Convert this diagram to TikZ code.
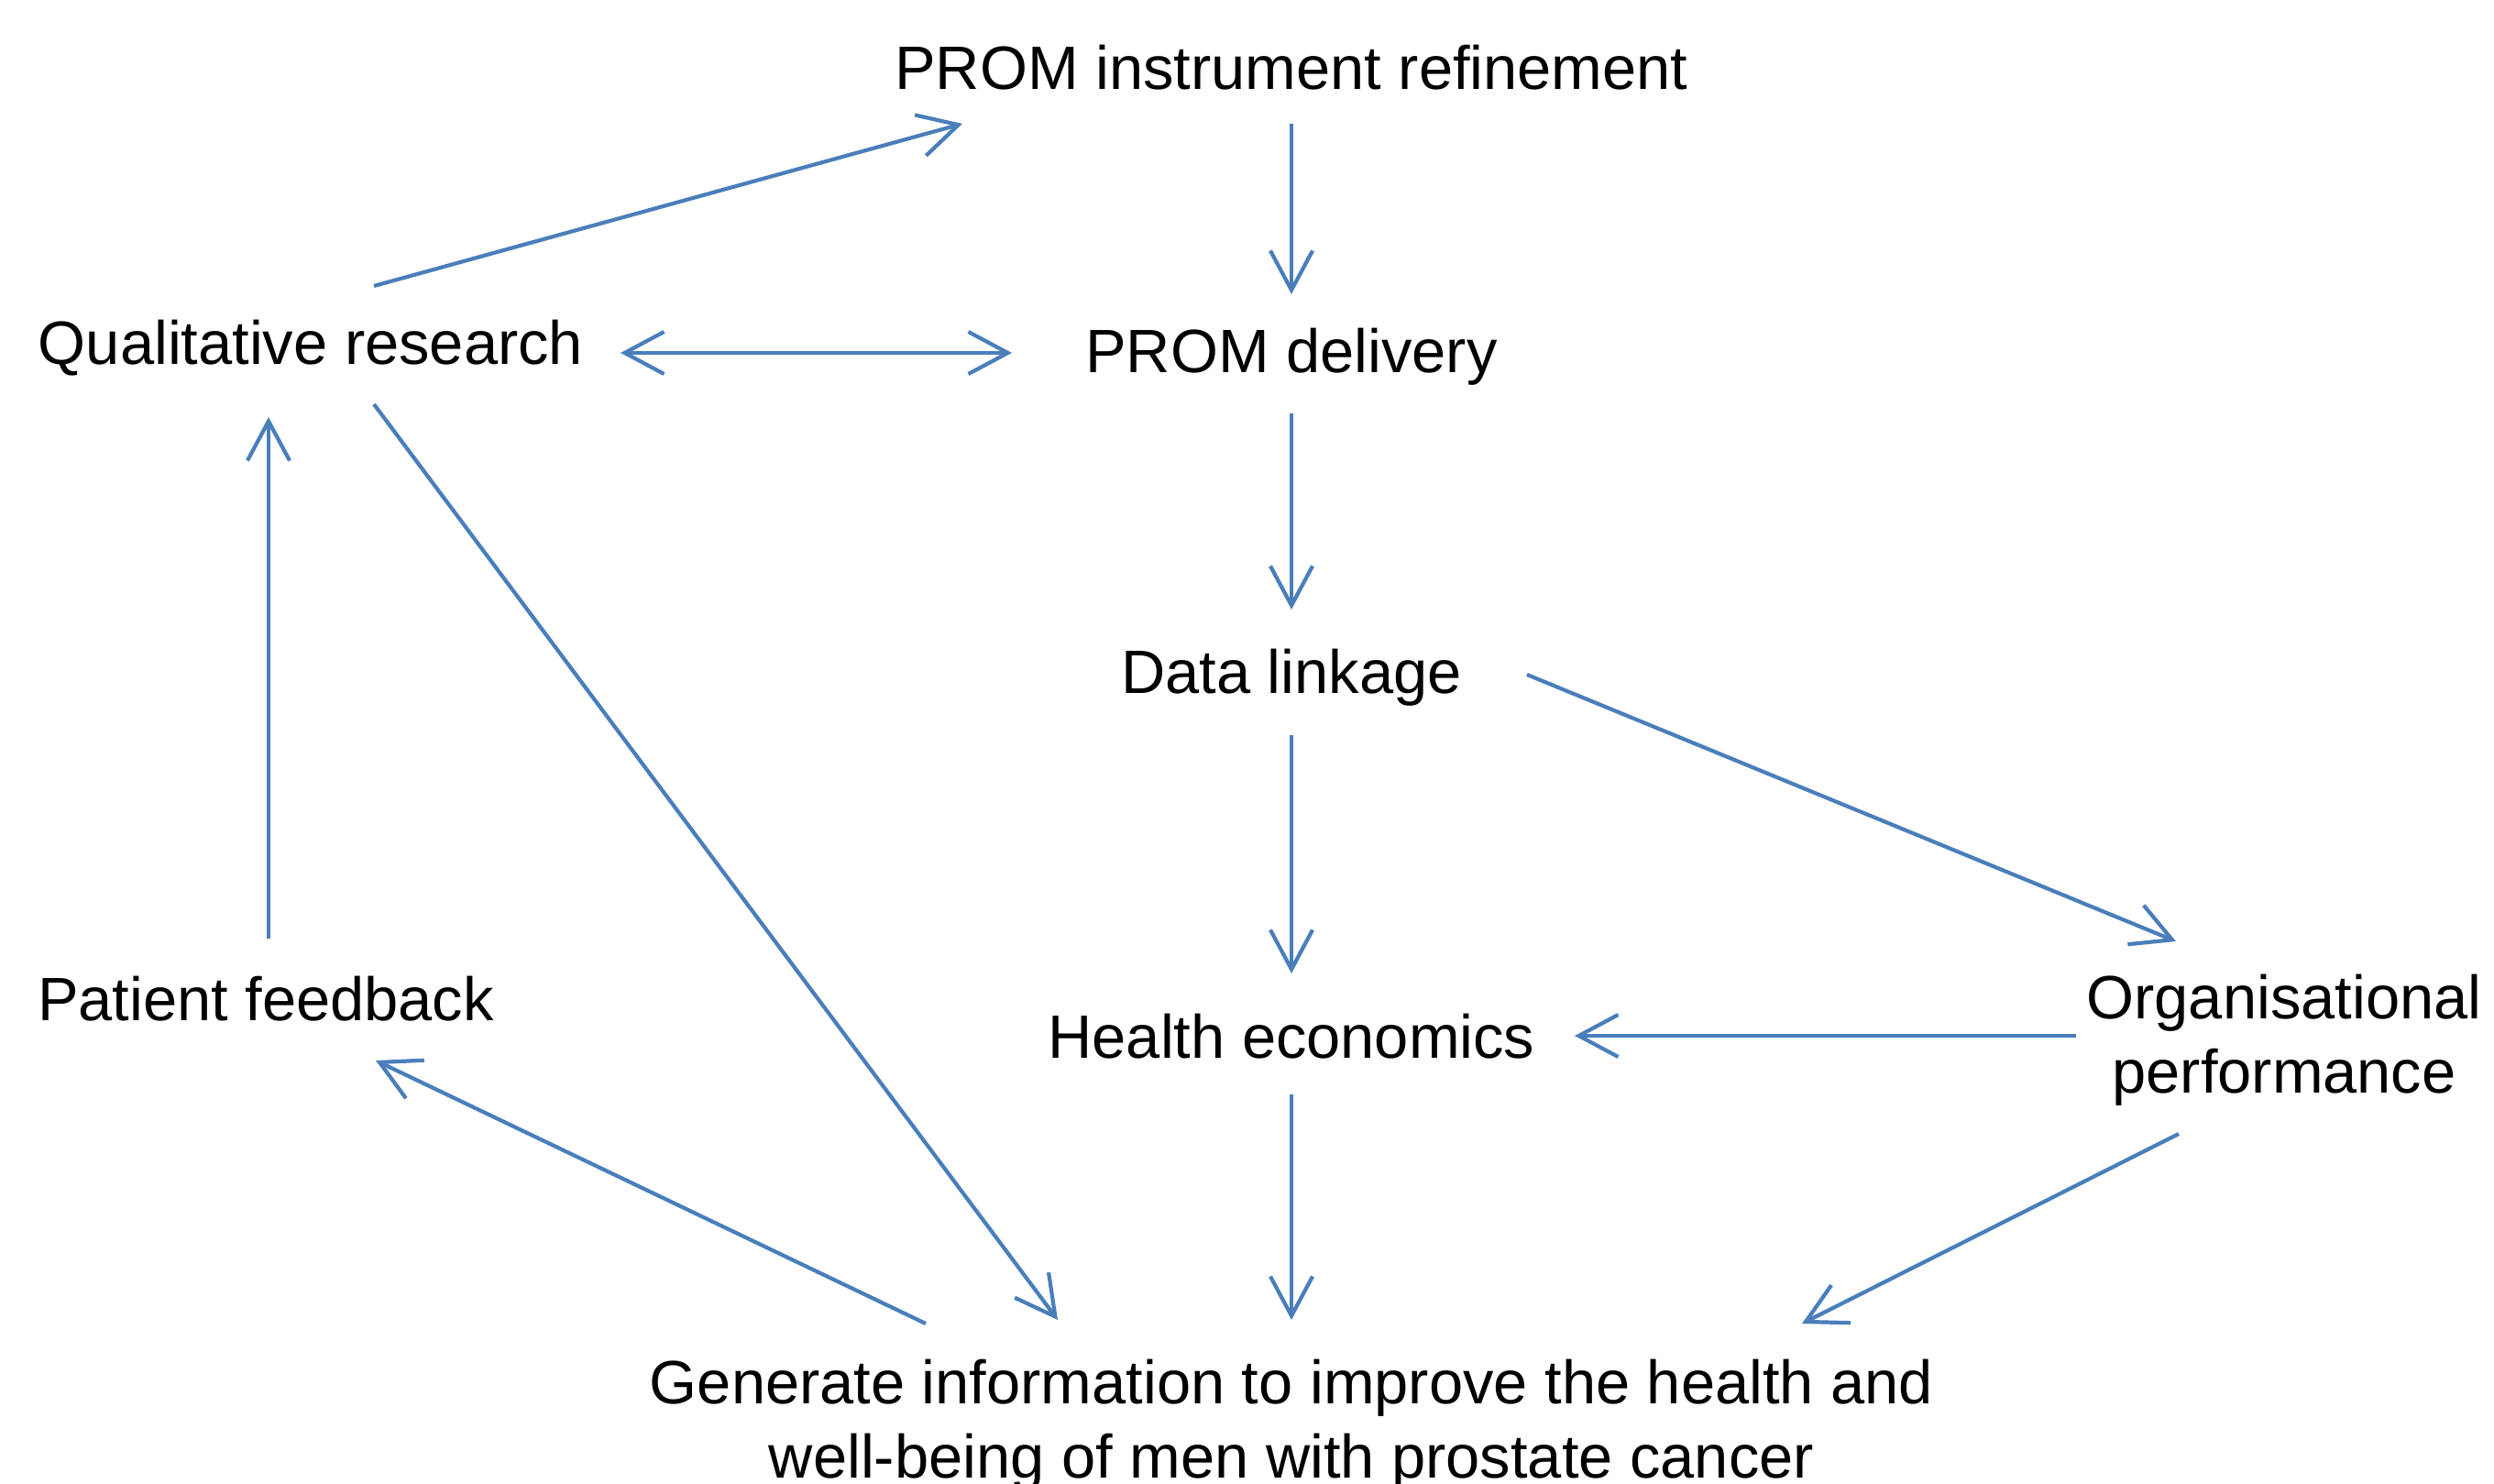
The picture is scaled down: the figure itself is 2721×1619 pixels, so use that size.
\documentclass[tikz,border=0pt]{standalone}
\usepackage{fontspec}
\setmainfont{Liberation Sans}
\usetikzlibrary{arrows.meta,calc}

\definecolor{lineblue}{RGB}{74,126,187}

\begin{document}
\begin{tikzpicture}[x=0.01cm,y=-0.01cm,
  box/.style={inner sep=0pt,align=center,font=\fontsize{19}{23}\selectfont},
  link/.style={draw=lineblue,line width=1.2pt,-{Straight Barb[length=4.3mm,width=4.6mm]}},
  both/.style={link,{Straight Barb[length=4.3mm,width=4.6mm]}-{Straight Barb[length=4.3mm,width=4.6mm]}}]
\useasboundingbox (0,0) rectangle (2721,1619);

\node[box] (refine) at (1409,74) {PROM instrument refinement};
\node[box] (qual) at (339,380) {Qualitative research};
\node[box] (deliver) at (1409,389) {PROM delivery};
\node[box] (linkage) at (1409,739) {Data linkage};
\node[box] (feedback) at (290,1090) {Patient feedback};
\node[box] (health) at (1409,1131) {Health economics};
\node[box] (org) at (2492,1135) {Organisational\\performance};
\node[box] (generate) at (1409,1555) {Generate information to improve the health and\\well-being of men with prostate cancer};

% main column
\draw[link] ($(refine)+(0,61)$) -- ($(deliver)+(0,-68)$);
\draw[link] ($(deliver)+(0,62)$) -- ($(linkage)+(0,-74)$);
\draw[link] ($(linkage)+(0,63)$) -- ($(health)+(0,-69)$);
\draw[link] ($(health)+(0,63)$) -- ($(generate)+(0,-115)$);

% left loop
\draw[link] ($(qual)+(69,-68)$) -- ($(refine)+(-359,61)$);
\draw[both] ($(qual)+(338,5)$) -- ($(deliver)+(-305,-4)$);
\draw[link] ($(qual)+(69,61)$) -- ($(generate)+(-255,-115)$);
\draw[link] ($(generate)+(-399,-111)$) -- ($(feedback)+(120,67)$);
\draw[link] ($(feedback)+(3,-66)$) -- ($(qual)+(-46,75)$);

% right side
\draw[link] ($(linkage)+(257,-3)$) -- ($(org)+(-118,-108)$);
\draw[link] ($(org)+(-227,-5)$) -- ($(health)+(309,-1)$);
\draw[link] ($(org)+(-115,102)$) -- ($(generate)+(557,-111)$);
\end{tikzpicture}
\end{document}
